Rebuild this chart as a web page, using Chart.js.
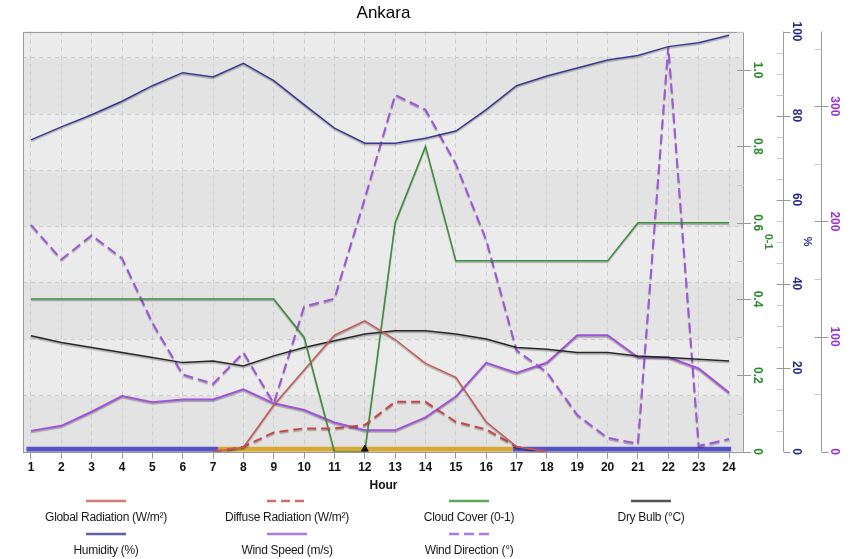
<!DOCTYPE html>
<html>
<head>
<meta charset="utf-8">
<title>Ankara</title>
<script src="https://cdn.jsdelivr.net/npm/chart.js@4.4.0/dist/chart.umd.min.js"></script>
<style>
  html, body { margin: 0; padding: 0; background: #fff; }
  #wrap { position: relative; width: 866px; height: 559px; }
  #legend { position: absolute; left: 0; top: 0; width: 866px; height: 559px; pointer-events: none;
            font-family: 'Liberation Sans', Arial, sans-serif; font-size: 12px; color: #1a1a1a; }
  .item { position: absolute; width: 180px; text-align: center; }
  .item svg { display: block; margin: 0 auto; }
  .item span { display: block; margin-top: 7px; line-height: 14px; letter-spacing: -0.3px; white-space: nowrap; }
</style>
</head>
<body>
<div id="wrap">
  <canvas id="chart" width="866" height="559"></canvas>
  <div id="legend"></div>
</div>
<script>
// hourly values
const hours = [1,2,3,4,5,6,7,8,9,10,11,12,13,14,15,16,17,18,19,20,21,22,23,24];
const globalRadiation  = [null,null,null,null,null,null,0,4.2,44.4,77.7,110.9,124.5,106.8,84.0,70.7,28.5,4.8,0,null,null,null,null,null,null];
const diffuseRadiation = [null,null,null,null,null,null,0,4.8,18.4,22.2,22.2,25.4,47.5,47.5,28.5,21.3,4.8,0,null,null,null,null,null,null];
const cloudCover  = [0.4,0.4,0.4,0.4,0.4,0.4,0.4,0.4,0.4,0.3,0,0,0.6,0.8,0.5,0.5,0.5,0.5,0.5,0.5,0.6,0.6,0.6,0.6];
const dryBulb     = [-3.1,-3.5,-3.8,-4.1,-4.4,-4.7,-4.6,-4.9,-4.3,-3.8,-3.4,-3.0,-2.8,-2.8,-3.0,-3.3,-3.8,-3.9,-4.1,-4.1,-4.3,-4.4,-4.5,-4.6];
const humidity    = [74.2,77.3,80.2,83.4,87.1,90.2,89.2,92.4,88.3,82.6,77.0,73.4,73.4,74.6,76.3,81.4,87.1,89.4,91.3,93.2,94.3,96.4,97.3,99.1];
const windSpeed   = [0.37,0.46,0.71,0.99,0.88,0.93,0.93,1.11,0.86,0.74,0.52,0.38,0.38,0.61,0.98,1.58,1.40,1.58,2.07,2.07,1.68,1.68,1.48,1.05];
const windDirection = [197,167,188,168,112,67,59,86,42,126,133,220,310,297,250,184,88,69,32,12,7,352,5,11];

const cloudTicks = [0,0.2,0.4,0.6,0.8,1.0];
const humidityTicks = [0,20,40,60,80,100];
const directionTicks = [0,100,200,300];

// day / night strip along the bottom (hours)
const stripStart = 0.85, sunrise = 7.16, sunset = 16.88, stripEnd = 24.07;
const noonHour = 12;

const SANS = "'Liberation Sans', Arial, sans-serif";

const line = (label, data, color, axis, extra) => Object.assign({
  label, data, borderColor: color, backgroundColor: color, yAxisID: axis,
  borderWidth: 1.5, pointRadius: 0, tension: 0, fill: false, spanGaps: false,
  shadow: true, inLegend: true
}, extra || {});

const strip = (from, to, color) => ({
  data: [{x: from, y: 0.6}, {x: to, y: 0.6}], borderColor: color, borderWidth: 5,
  pointRadius: 0, yAxisID: 'yBand', order: 10
});

const datasets = [
  line('Global Radiation (W/m²)', globalRadiation, '#c65b57', 'yRad'),
  line('Diffuse Radiation (W/m²)', diffuseRadiation, '#c44848', 'yRad', {borderDash: [9, 5], borderWidth: 2}),
  line('Cloud Cover (0-1)', cloudCover, '#3b8c3b', 'yCloud'),
  line('Dry Bulb (°C)', dryBulb, '#262626', 'yTemp'),
  line('Humidity (%)', humidity, '#393990', 'yHum'),
  line('Wind Speed (m/s)', windSpeed, '#a052d8', 'yWS', {borderWidth: 2}),
  line('Wind Direction (°)', windDirection, '#9d55d9', 'yDir', {borderDash: [10, 5], borderWidth: 2}),
  strip(stripStart, sunrise, '#5454c4'),
  strip(sunrise, sunset, '#d9a833'),
  strip(sunset, stripEnd, '#5454c4'),
  { data: [{x: noonHour, y: 0.6}], type: 'scatter', yAxisID: 'yBand', pointStyle: 'triangle',
    pointRadius: 4, backgroundColor: '#111', borderColor: '#111', order: -1 }
];

const tickSet = (arr) => (scale) => { scale.ticks = arr.map(v => ({value: v})); };
// right-hand axes: labels turned to read downwards, widths fixed so they sit like the original
const rightAxis = (min, max, ticks, color, pad, width, weight, title, fmt) => ({
  type: 'linear', position: 'right', min, max, weight,
  afterBuildTicks: tickSet(ticks),
  afterFit: (s) => { s.width = width; },
  grid: {display: false, drawTicks: false, drawOnChartArea: false},
  border: {display: false},
  ticks: {color, padding: pad, minRotation: -90, maxRotation: -90, crossAlign: 'center', autoSkip: false,
          font: {family: SANS, size: 12, weight: 'bold'}, callback: fmt || (v => String(v))},
  title: {display: !!title, text: title, color, padding: 0, font: {family: SANS, size: 11, weight: 'bold'}}
});

const decor = {
  id: 'decor',
  beforeDraw(chart) {
    const {ctx, chartArea: a, scales} = chart;
    const g = scales.yWS;
    ctx.save();
    for (let v = 0; v < g.max; v++) {
      const y0 = g.getPixelForValue(v), y1 = g.getPixelForValue(Math.min(v + 1, g.max));
      ctx.fillStyle = v % 2 === 0 ? '#e3e3e3' : '#ebebeb';
      ctx.fillRect(a.left, y1, a.right - a.left, y0 - y1);
    }
    ctx.restore();
  },
  beforeDatasetDraw(chart, args) {
    if (args.meta._dataset.shadow) {
      const ctx = chart.ctx;
      ctx.save();
      ctx.shadowColor = 'rgba(0,0,0,0.28)';
      ctx.shadowOffsetY = 1.5;
      ctx.shadowBlur = 1;
    }
  },
  afterDatasetDraw(chart, args) {
    if (args.meta._dataset.shadow) chart.ctx.restore();
  },
  afterDraw(chart) {
    const {ctx, chartArea: a, scales} = chart;
    const seg = (x1, x2, y, color) => {
      const yy = Math.round(y) + 0.5;
      ctx.strokeStyle = color; ctx.beginPath(); ctx.moveTo(x1, yy); ctx.lineTo(x2, yy); ctx.stroke();
    };
    const vline = (x, color) => {
      ctx.strokeStyle = color; ctx.beginPath(); ctx.moveTo(x, a.top); ctx.lineTo(x, a.bottom); ctx.stroke();
    };
    ctx.save();
    ctx.lineWidth = 1;
    // plot frame
    ctx.strokeStyle = '#9a9a9a';
    ctx.strokeRect(Math.round(a.left) + 0.5, Math.round(a.top) + 0.5,
                   Math.round(a.right - a.left) - 1, Math.round(a.bottom - a.top));

    // cloud cover ticks on the frame
    const c = scales.yCloud, rx = Math.round(a.right);
    for (let v = 0.1; v < c.max; v += 0.2) seg(rx - 7, rx, c.getPixelForValue(v), '#c8c8c8');
    cloudTicks.forEach(v => seg(rx - 7, rx + 7, c.getPixelForValue(v), '#999'));

    // humidity axis
    const h = scales.yHum, hx = Math.round(h.left + 8) + 0.5;
    vline(hx, '#999');
    for (let v = 5; v < 100; v += 5) if (v % 20) seg(hx - 7, hx, h.getPixelForValue(v), '#c8c8c8');
    humidityTicks.forEach(v => seg((v === 0 || v === 100) ? hx : hx - 7, hx + 7, h.getPixelForValue(v), '#999'));

    // wind direction axis
    const d = scales.yDir, dx = Math.round(d.left + 7) + 0.5;
    vline(dx, '#999');
    for (let v = 50; v < d.max; v += 100) seg(dx - 7, dx, d.getPixelForValue(v), '#c8c8c8');
    directionTicks.forEach(v => seg(v === 0 ? dx : dx - 7, dx + 7, d.getPixelForValue(v), '#999'));

    // title
    ctx.fillStyle = '#000';
    ctx.font = '17px ' + SANS;
    ctx.textAlign = 'center';
    ctx.textBaseline = 'middle';
    ctx.fillText('Ankara', (a.left + a.right) / 2, 13);
    ctx.restore();
  }
};

const chart = new Chart(document.getElementById('chart'), {
  type: 'line',
  data: { labels: hours, datasets },
  plugins: [decor],
  options: {
    responsive: false,
    animation: false,
    layout: { padding: { top: 31.5, left: 23, right: 0, bottom: 65.8 } },
    plugins: { legend: { display: false }, tooltip: { enabled: false }, title: { display: false } },
    scales: {
      x: {
        type: 'linear', position: 'bottom', min: 0.7364, max: 24.494,
        afterBuildTicks: tickSet(hours),
        afterFit: (s) => { s.height = 41.5; },
        grid: { color: '#cdcdcd', lineWidth: 1, drawTicks: true, tickLength: 7, tickColor: '#999' },
        border: { display: false, dash: [4, 4] },
        ticks: { color: '#111', padding: 2, maxRotation: 0, autoSkip: false,
                 font: { family: SANS, size: 12, weight: 'bold' } },
        title: { display: true, text: 'Hour', color: '#111', padding: 0,
                 font: { family: SANS, size: 12, weight: 'bold' } }
      },
      yCloud: rightAxis(0, 1.101, cloudTicks, '#2a8a2a', 4.6, 30.6, 1, '0-1', v => v === 0 ? '0' : v.toFixed(1)),
      yHum: rightAxis(0, 100, humidityTicks, '#29298c', 11.9, 39, 2, '%'),
      yDir: rightAxis(0, 365, directionTicks, '#9b32cf', 10.4, 52.4, 3, ''),
      yWS: {
        type: 'linear', position: 'left', min: 0, max: 7.47,
        afterBuildTicks: tickSet([1, 2, 3, 4, 5, 6, 7]),
        grid: { color: '#cdcdcd', lineWidth: 1, drawTicks: false },
        border: { display: false, dash: [4, 4] },
        ticks: { display: false }
      },
      yRad: { type: 'linear', display: false, min: 0, max: 400 },
      yTemp: { type: 'linear', display: false, min: -10, max: 15 },
      yBand: { type: 'linear', display: false, min: 0, max: 100 }
    }
  }
});

// legend below the plot, sample line above each name
const legendSlots = [[106, 500.7], [287, 500.7], [469, 500.7], [651, 500.7], [106, 534], [287, 534], [469, 534]];
const legendBox = document.getElementById('legend');
chart.data.datasets.filter(ds => ds.inLegend).forEach((ds, i) => {
  const [cx, cy] = legendSlots[i];
  const item = document.createElement('div');
  item.className = 'item';
  item.style.left = (cx - 90) + 'px';
  item.style.top = (cy - 2) + 'px';
  const dash = ds.borderDash ? ` stroke-dasharray="${ds.borderDash.join(',')}"` : '';
  item.innerHTML = `<svg width="40" height="4"><line x1="0" y1="2" x2="40" y2="2" stroke="${ds.borderColor}" stroke-opacity="0.8" stroke-width="2.5"${dash}/></svg><span>${ds.label}</span>`;
  legendBox.appendChild(item);
});
</script>
</body>
</html>
